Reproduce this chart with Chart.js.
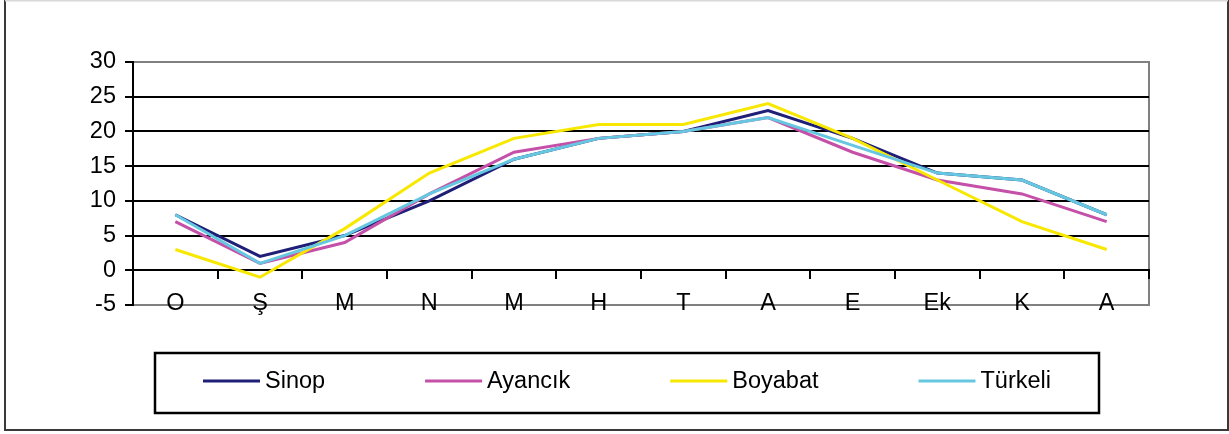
<!DOCTYPE html>
<html>
<head>
<meta charset="utf-8">
<script src="https://cdn.jsdelivr.net/npm/chart.js@4.4.0/dist/chart.umd.min.js"></script>
<style>
  body { margin: 0; background: #fff; }
  #wrap { width: 1229px; height: 434px; }
</style>
</head>
<body>
<div id="wrap"><canvas id="myChart" width="1229" height="434"></canvas></div>
<script>
const months = ["O", "Ş", "M", "N", "M", "H", "T", "A", "E", "Ek", "K", "A"];
const sinop = [8, 2, 5, 10, 16, 19, 20, 23, 19, 14, 13, 8];
const ayancik = [7, 1, 4, 11, 17, 19, 20, 22, 17, 13, 11, 7];
const boyabat = [3, -1, 6, 14, 19, 21, 21, 24, 19, 13, 7, 3];
const turkeli = [8, 1, 5, 11, 16, 19, 20, 22, 18, 14, 13, 8];
const yTicks = [-5, 0, 5, 10, 15, 20, 25, 30];

const FONT_SIZE = 23.5;
const FONT_FAMILY = "'Liberation Sans', Arial, sans-serif";

Chart.defaults.font.family = FONT_FAMILY;
Chart.defaults.font.size = FONT_SIZE;
Chart.defaults.color = "#000";

// gray frame of the plot area + outer frame + boxed legend
const frames = {
  id: "frames",
  beforeDraw(chart) {
    const ctx = chart.ctx;
    const a = chart.chartArea;
    ctx.save();
    ctx.strokeStyle = "#808080";
    ctx.lineWidth = 2;
    ctx.strokeRect(a.left, a.top, a.right - a.left, a.bottom - a.top);
    ctx.restore();
  },
  afterDraw(chart) {
    const ctx = chart.ctx;
    ctx.save();
    // outer frame: dark on left/right/bottom, faint on top
    ctx.strokeStyle = "#3a3a3a";
    ctx.lineWidth = 2;
    ctx.beginPath();
    ctx.moveTo(5, 0);
    ctx.lineTo(5, 430);
    ctx.lineTo(1228, 430);
    ctx.lineTo(1228, 0);
    ctx.stroke();
    ctx.strokeStyle = "#d8d8d8";
    ctx.beginPath();
    ctx.moveTo(5, 0.5);
    ctx.lineTo(1228, 0.5);
    ctx.stroke();

    ctx.strokeStyle = "#000";
    ctx.lineWidth = 2.5;
    ctx.strokeRect(155, 353, 944, 60);

    ctx.font = FONT_SIZE + "px " + FONT_FAMILY;
    const lineLen = 57, gap = 5, space = 100;
    const ds = chart.data.datasets;
    const widths = ds.map((d) => lineLen + gap + ctx.measureText(d.label).width);
    const total = widths.reduce((s, w) => s + w, 0) + space * (ds.length - 1);
    let x = 155 + (944 - total) / 2;
    const y = 381;
    ds.forEach((d, i) => {
      ctx.strokeStyle = d.borderColor;
      ctx.lineWidth = 3;
      ctx.beginPath();
      ctx.moveTo(x, y);
      ctx.lineTo(x + lineLen, y);
      ctx.stroke();
      ctx.fillStyle = "#000";
      ctx.textBaseline = "middle";
      ctx.textAlign = "left";
      ctx.fillText(d.label, x + lineLen + gap, y + 1);
      x += widths[i] + space;
    });
    ctx.restore();
  }
};

const ctx = document.getElementById("myChart").getContext("2d");
const myChart = new Chart(ctx, {
  type: "line",
  data: {
    labels: months,
    datasets: [
      { label: "Sinop", data: sinop, borderColor: "#1f1f78", order: 4 },
      { label: "Ayancık", data: ayancik, borderColor: "#c450a8", order: 3 },
      { label: "Boyabat", data: boyabat, borderColor: "#f8e800", order: 2 },
      { label: "Türkeli", data: turkeli, borderColor: "#66c8e0", order: 1 },
    ],
  },
  options: {
    responsive: false,
    animation: false,
    layout: { padding: { left: 0, top: 62, right: 80, bottom: 129 } },
    elements: {
      line: { borderWidth: 3, tension: 0, fill: false },
      point: { radius: 0, hoverRadius: 0 },
    },
    plugins: {
      legend: { display: false },
      tooltip: { enabled: false },
    },
    scales: {
      x: {
        type: "category",
        offset: true,
        position: { y: 0 },
        grid: {
          offset: true,
          drawOnChartArea: false,
          drawTicks: true,
          tickLength: 8,
          lineWidth: 2,
          color: "#000",
          tickColor: "#000",
        },
        border: { display: true, color: "#000", width: 2 },
        ticks: { autoSkip: false, maxRotation: 0, padding: 11, color: "#000" },
      },
      y: {
        position: "left",
        min: yTicks[0],
        max: yTicks[yTicks.length - 1],
        ticks: { stepSize: yTicks[1] - yTicks[0], padding: 9, color: "#000" },
        grid: {
          lineWidth: 2,
          tickLength: 8,
          tickColor: "#000",
          color: (c) =>
            c.tick && (c.tick.value === yTicks[0] || c.tick.value === yTicks[yTicks.length - 1])
              ? "#808080"
              : "#000",
        },
        border: { display: true, color: "#000", width: 2 },
        afterFit: (s) => {
          s.width = 133;
        },
      },
    },
  },
  plugins: [frames],
});
</script>
</body>
</html>
